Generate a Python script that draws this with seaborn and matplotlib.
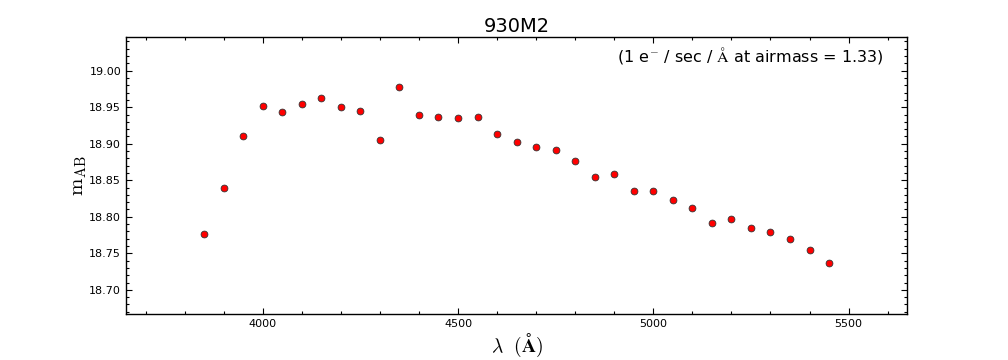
import matplotlib
matplotlib.use("Agg")
import matplotlib.pyplot as plt
import seaborn as sns
import pandas as pd
from matplotlib.ticker import MultipleLocator

wavelength = [3850, 3900, 3950, 4000, 4050, 4100, 4150, 4200, 4250, 4300,
              4350, 4400, 4450, 4500, 4550, 4600, 4650, 4700, 4750, 4800,
              4850, 4900, 4950, 5000, 5050, 5100, 5150, 5200, 5250, 5300,
              5350, 5400, 5450]
m_ab = [18.776, 18.839, 18.910, 18.951, 18.944, 18.954, 18.963, 18.950, 18.945, 18.905,
        18.978, 18.939, 18.936, 18.935, 18.936, 18.913, 18.903, 18.896, 18.891, 18.877,
        18.854, 18.858, 18.835, 18.835, 18.823, 18.812, 18.791, 18.797, 18.785, 18.779,
        18.770, 18.755, 18.737]
title = "930M2"
note = r"(1 e$^{-}$ / sec / $\mathrm{\AA}$ at airmass = 1.33)"

sns.set_style("ticks")
plt.rcParams['font.family'] = ['DejaVu Sans']
plt.rcParams['mathtext.fontset'] = 'cm'
for k in ['text.color', 'axes.labelcolor', 'xtick.color', 'ytick.color']:
    plt.rcParams[k] = 'black'

df = pd.DataFrame({"wl": wavelength, "m": m_ab})
fig = plt.figure(figsize=(10.08, 3.6), dpi=100)
ax = fig.add_axes([0.125, 0.128, 0.775, 0.769])
sns.scatterplot(data=df, x="wl", y="m", ax=ax, color="red", s=24,
                edgecolor="#333333", linewidth=0.6, zorder=3)
ax.set_xlim(3650, 5650)
ax.set_ylim(18.667, 19.046)
ax.xaxis.set_major_locator(MultipleLocator(500))
ax.xaxis.set_minor_locator(MultipleLocator(100))
ax.yaxis.set_major_locator(MultipleLocator(0.05))
ax.yaxis.set_minor_locator(MultipleLocator(0.01))
ax.tick_params(which='both', direction='in', top=True, right=True, labelsize=8, width=0.8)
ax.tick_params(which='major', length=4)
ax.tick_params(which='minor', length=2)
for sp in ax.spines.values():
    sp.set_linewidth(1.0)
    sp.set_color('black')
ax.set_title(title, fontsize=14, color='black', pad=4)
ax.set_xlabel(r"$\lambda\ \ (\mathbf{\AA})$", fontsize=14, labelpad=2)
ax.set_ylabel(r"$\mathrm{m}_{\mathrm{AB}}$", fontsize=15, labelpad=0)
ax.text(0.97, 0.97, note, transform=ax.transAxes, ha='right', va='top', fontsize=11.5)
fig.savefig("out.png", dpi=100)
